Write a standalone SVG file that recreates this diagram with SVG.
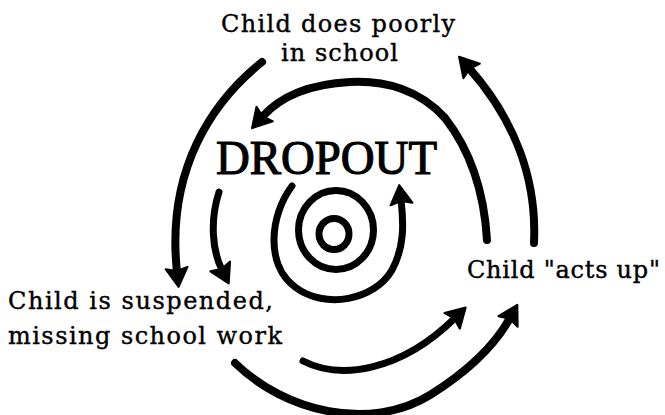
<svg xmlns="http://www.w3.org/2000/svg" width="665" height="415" viewBox="0 0 665 415">
<style>
.lbl{font-family:"DejaVu Serif","Liberation Serif",serif;font-size:24px;fill:#000;stroke:#000;stroke-width:0.4}
.big{font-family:"Liberation Serif","Times New Roman",serif;font-size:48px;fill:#000;stroke:#000;stroke-width:1.2}
.arc{fill:none;stroke:#000;stroke-width:8;stroke-linecap:round;stroke-linejoin:round}
.thin{stroke-width:7}
.ring{fill:none;stroke:#000;stroke-width:7}
</style>
<defs>
<marker id="ah" markerUnits="userSpaceOnUse" markerWidth="26" markerHeight="26" viewBox="-3 -13 26 26" refX="4" refY="0" orient="auto">
<polygon points="0,-11 19,0 0,11 3,0" fill="#000" stroke="#000" stroke-width="2" stroke-linejoin="round"/>
</marker>
</defs>
<rect width="665" height="415" fill="#fff"/>
<g id="connectors">
<path class="arc" d="M262 62 C212 102 166 170 177 272" marker-end="url(#ah)"/>
<path class="arc thin" d="M219 192 C210 220 212 250 222 270" marker-end="url(#ah)"/>
<path class="arc" d="M487 240 C484 190 470 150 445 118 C420 90 385 80 350 82 C310 84 280 97 262 117" marker-end="url(#ah)"/>
<path class="arc" d="M534 243 C537 180 515 120 469 68" marker-end="url(#ah)"/>
<path class="arc thin" d="M292 186 C270 215 265 265 295 287 C325 310 375 300 392 270 C404 248 404 225 401 200" marker-end="url(#ah)"/>
<path class="arc thin" d="M303 361 C340 380 400 372 455 318" marker-end="url(#ah)"/>
<path class="arc" d="M235 363 C285 412 370 432 430 395 C470 370 495 345 510 318" marker-end="url(#ah)"/>
</g>
<g id="node-poorly">
<text class="lbl" x="221" y="32" textLength="234" lengthAdjust="spacing">Child does poorly</text>
<text class="lbl" x="281" y="61" textLength="117" lengthAdjust="spacing">in school</text>
</g>
<g id="node-dropout">
<text class="big" x="216" y="174" textLength="221" lengthAdjust="spacingAndGlyphs">DROPOUT</text>
<ellipse class="ring" cx="336" cy="230" rx="37.5" ry="39.5"/>
<ellipse class="ring" cx="334" cy="234" rx="15" ry="15.5"/>
</g>
<g id="node-suspended">
<text class="lbl" x="8" y="309" textLength="265" lengthAdjust="spacing">Child is suspended,</text>
<text class="lbl" x="8" y="344" textLength="274" lengthAdjust="spacing">missing school work</text>
</g>
<g id="node-actsup">
<text class="lbl" x="467" y="278" textLength="193" lengthAdjust="spacing">Child "acts up"</text>
</g>
</svg>
